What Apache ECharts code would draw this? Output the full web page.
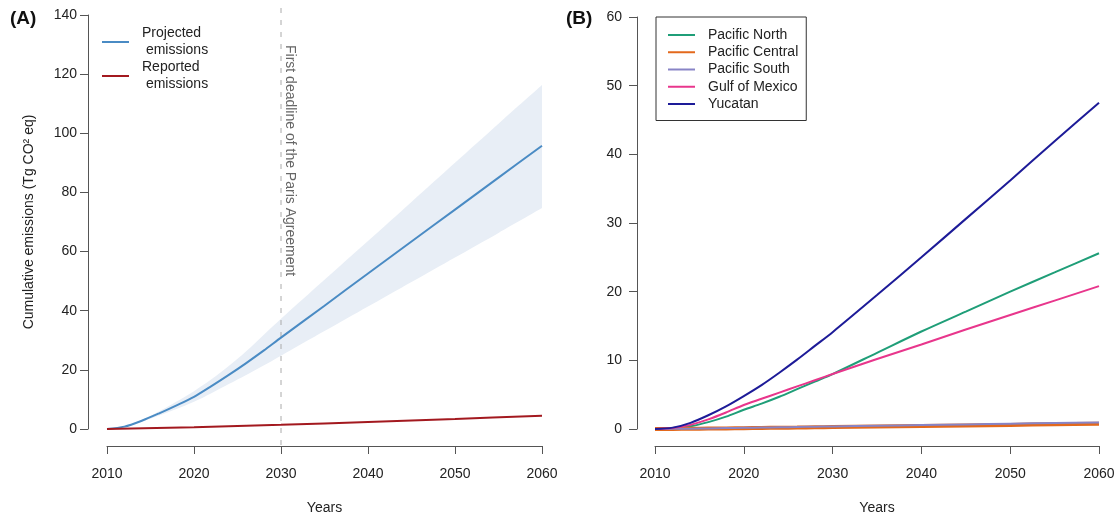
<!DOCTYPE html>
<html><head><meta charset="utf-8">
<script src="https://cdn.jsdelivr.net/npm/echarts@6/dist/echarts.min.js"></script>
<style>html,body{margin:0;padding:0;background:#fff}#c{width:1116px;height:516px}</style>
</head><body><div id="c"></div>
<script>
// ---------- Panel A data ----------
const yearsA        = [2010, 2012, 2014, 2016, 2018, 2020, 2022, 2024, 2026, 2028, 2030, 2035, 2040, 2045, 2050, 2055, 2060];
const projected     = [0,    0.8,  2.8,  5.3,  8.0,  10.9, 14.5, 18.3, 22.3, 26.5, 30.9, 41.7, 52.6, 63.4, 74.2, 85.0, 95.8];
const projectedLow  = [0,    0.7,  2.5,  4.6,  6.8,  9.2,  12.1, 15.2, 18.3, 21.5, 24.8, 33.1, 41.4, 49.7, 58.0, 66.3, 74.7];
const projectedHigh = [0,    0.9,  3.1,  6.0,  9.3,  12.8, 16.8, 21.3, 26.3, 31.8, 37.3, 50.5, 63.6, 76.8, 90.0, 103.2, 116.3];
const reportedYears = [2010, 2020, 2030, 2040, 2050, 2060];
const reported      = [0,    0.6,  1.4,  2.4,  3.4,  4.5];
const deadlineYear  = [2030];
const deadlineLabel = 'First deadline of the Paris Agreement';

// ---------- Panel B data ----------
const yearsB        = [2010, 2012, 2014, 2016, 2018, 2020, 2022, 2024, 2026, 2028, 2030, 2035, 2040, 2045, 2050, 2055, 2060];
const pacificNorth  = [0, 0.1,  0.4,  1.0,  1.8,  2.8,  3.7,  4.7,  5.8,  6.9,  8.0,  11.1, 14.2, 17.1, 20.0, 22.8, 25.6];
const pacificCentral= [0, 0.01, 0.03, 0.06, 0.09, 0.12, 0.15, 0.18, 0.21, 0.25, 0.28, 0.36, 0.44, 0.52, 0.6,  0.68, 0.75];
const pacificSouth  = [0, 0.02, 0.05, 0.09, 0.13, 0.17, 0.21, 0.25, 0.29, 0.33, 0.37, 0.47, 0.57, 0.67, 0.77, 0.87, 0.95];
const gulfOfMexico  = [0, 0.15, 0.6,  1.4,  2.4,  3.5,  4.4,  5.3,  6.2,  7.1,  8.0,  10.2, 12.3, 14.5, 16.6, 18.7, 20.8];
const yucatan       = [0, 0.2,  0.9,  2.0,  3.3,  4.8,  6.4,  8.2,  10.1, 12.1, 14.1, 19.5, 25.0, 30.6, 36.2, 41.9, 47.5];

// ---------- Axis settings ----------
const xMin = 2010, xMax = 2060, xStep = 10;
const yMaxA = 140, yStepA = 20;
const yMaxB = 60, yStepB = 10;

const FONT = '"Liberation Sans", Arial, Helvetica, sans-serif';
const pairs = (xs, ys) => xs.map((x, i) => [x, ys[i]]);

const axisColor = '#555';
function xAx(gi) {
  return {
    type: 'value', gridIndex: gi, min: xMin, max: xMax, interval: xStep, offset: 17,
    name: 'Years', nameLocation: 'middle', nameGap: 55,
    nameTextStyle: { fontSize: 14, color: '#222', fontFamily: FONT },
    axisLine: { show: true, onZero: false, lineStyle: { color: axisColor, width: 1 } },
    axisTick: { show: true, length: 8, lineStyle: { color: axisColor } },
    axisLabel: { margin: 21, color: '#222', fontSize: 14, fontFamily: FONT, formatter: v => String(v) },
    splitLine: { show: false }
  };
}
function yAx(gi, max, step, offset, margin, name) {
  return {
    type: 'value', gridIndex: gi, min: 0, max: max, interval: step, offset: offset,
    name: name || '', nameLocation: 'middle', nameGap: 52,
    nameTextStyle: { fontSize: 14, color: '#222', fontFamily: FONT },
    axisLine: { show: true, onZero: false, lineStyle: { color: axisColor, width: 1 } },
    axisTick: { show: true, length: 8, lineStyle: { color: axisColor } },
    axisLabel: { margin: margin, color: '#222', fontSize: 14, fontFamily: FONT, formatter: v => String(v) },
    splitLine: { show: false }
  };
}

const chart = echarts.init(document.getElementById('c'), null, { renderer: 'canvas' });
const lineSeries = (name, xi, xs, ys, color, width, extra) => Object.assign({
  name, type: 'line', xAxisIndex: xi, yAxisIndex: xi, data: pairs(xs, ys),
  symbol: 'none', smooth: 0.3, clip: false, silent: true, z: 4,
  lineStyle: { color, width }, itemStyle: { color }
}, extra || {});

chart.setOption({
  animation: false,
  backgroundColor: '#fff',
  textStyle: { fontFamily: FONT },
  title: [
    { text: '(A)', left: 10, top: 9, padding: 0, textStyle: { fontSize: 19, fontWeight: 'bold', color: '#111', fontFamily: FONT } },
    { text: '(B)', left: 566, top: 9, padding: 0, textStyle: { fontSize: 19, fontWeight: 'bold', color: '#111', fontFamily: FONT } }
  ],
  grid: [
    { left: 107, top: 15, width: 435, height: 414, containLabel: false, outerBoundsMode: 'none' },
    { left: 655, top: 17, width: 444, height: 412, containLabel: false, outerBoundsMode: 'none' }
  ],
  xAxis: [xAx(0), xAx(1)],
  yAxis: [yAx(0, yMaxA, yStepA, 19, 11, 'Cumulative emissions (Tg CO\u00B2 eq)'), yAx(1, yMaxB, yStepB, 18, 15)],
  legend: [
    {
      data: ['Projected emissions', 'Reported emissions'],
      orient: 'vertical', left: 102, top: 25, padding: 0, itemGap: 0,
      icon: 'rect', itemWidth: 27, itemHeight: 2,
      formatter: n => n.replace(' ', '\n '),
      textStyle: { fontSize: 14, lineHeight: 17, color: '#222', fontFamily: FONT, padding: [0, 0, 0, 8] },
      selectedMode: false
    },
    {
      data: ['Pacific North', 'Pacific Central', 'Pacific South', 'Gulf of Mexico', 'Yucatan'],
      orient: 'vertical', left: 656, top: 17, padding: [9.5, 8, 8, 12], itemGap: 0.25,
      borderColor: '#333', borderWidth: 1, borderRadius: 0,
      icon: 'rect', itemWidth: 27, itemHeight: 2,
      textStyle: { fontSize: 14, lineHeight: 17, color: '#222', fontFamily: FONT, padding: [0, 0, 0, 8] },
      selectedMode: false
    }
  ],
  series: [
    // uncertainty band: upper edge filled with band colour, lower edge filled with white
    { name: 'bandHigh', type: 'line', xAxisIndex: 0, yAxisIndex: 0, data: pairs(yearsA, projectedHigh),
      symbol: 'none', smooth: 0.3, silent: true, z: 1, lineStyle: { width: 0, opacity: 0 },
      areaStyle: { color: '#e8eef6', opacity: 1 } },
    { name: 'bandLow', type: 'line', xAxisIndex: 0, yAxisIndex: 0, data: pairs(yearsA, projectedLow),
      symbol: 'none', smooth: 0.3, silent: true, z: 2, lineStyle: { width: 0, opacity: 0 },
      areaStyle: { color: '#ffffff', opacity: 1 } },
    // deadline line + label
    { name: 'deadline', type: 'custom', xAxisIndex: 0, yAxisIndex: 0, data: deadlineYear.map(y => [y, 0]),
      encode: { x: 0, y: 1 }, clip: false, silent: true, z: 3,
      renderItem: function (params, api) {
        const top = api.coord([api.value(0), yMaxA]);
        const bot = api.coord([api.value(0), 0]);
        return { type: 'group', children: [
          { type: 'line', shape: { x1: top[0], y1: top[1] - 7, x2: bot[0], y2: bot[1] + 23 },
            style: { stroke: '#aaa', lineWidth: 1, lineDash: [5, 7] } },
          { type: 'text', x: top[0] + 9, y: top[1] + 30, rotation: -Math.PI / 2,
            style: { text: deadlineLabel, fill: '#666', font: '14px ' + FONT, align: 'left', verticalAlign: 'middle' } }
        ] };
      } },
    lineSeries('Projected emissions', 0, yearsA, projected, '#4a8bc4', 2),
    lineSeries('Reported emissions', 0, reportedYears, reported, '#a3191f', 2),
    // Panel B
    lineSeries('Pacific North', 1, yearsB, pacificNorth, '#1f9e78', 2),
    lineSeries('Pacific Central', 1, yearsB, pacificCentral, '#e3691c', 4),
    lineSeries('Pacific South', 1, yearsB, pacificSouth, '#8884c6', 2),
    lineSeries('Gulf of Mexico', 1, yearsB, gulfOfMexico, '#e8368c', 2),
    lineSeries('Yucatan', 1, yearsB, yucatan, '#1d1b98', 2)
  ]
});
</script>
</body></html>
